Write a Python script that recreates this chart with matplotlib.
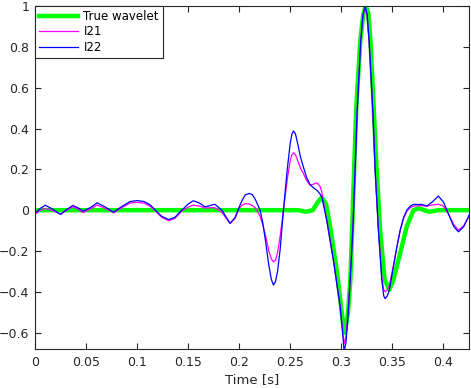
import matplotlib
matplotlib.use("Agg")
import matplotlib.pyplot as plt

t_est = [0, 0.005, 0.01, 0.017, 0.025, 0.031, 0.037, 0.042, 0.047, 0.054,
         0.061, 0.069, 0.077, 0.085, 0.093, 0.1, 0.107, 0.113, 0.118, 0.124,
         0.131, 0.137, 0.1437, 0.15, 0.155, 0.161, 0.1665, 0.171, 0.176, 0.183,
         0.191, 0.196, 0.2, 0.203, 0.206, 0.21, 0.213, 0.216, 0.2204, 0.223,
         0.226, 0.229, 0.2315, 0.2335, 0.2355, 0.2375, 0.24, 0.2433, 0.247, 0.25,
         0.2515, 0.253, 0.255, 0.2575, 0.26, 0.2628, 0.266, 0.2694, 0.273, 0.276,
         0.279, 0.2808, 0.2857, 0.2922, 0.2988, 0.3005, 0.3027, 0.3045, 0.3065, 0.3086,
         0.3112, 0.3135, 0.3155, 0.319, 0.3212, 0.3233, 0.3252, 0.3272, 0.3308, 0.3331,
         0.3363, 0.3396, 0.3415, 0.3429, 0.345, 0.347, 0.351, 0.354, 0.3576, 0.361,
         0.3641, 0.3675, 0.3706, 0.3787, 0.3837, 0.389, 0.395, 0.4, 0.405, 0.41,
         0.4147, 0.42, 0.425]

l22 = [-0.015, 0.008, 0.024, 0.006, -0.021, 0.003, 0.023, 0.012, -0.005, 0.012,
       0.036, 0.015, -0.01, 0.018, 0.042, 0.047, 0.042, 0.025, 0.0, -0.03,
       -0.046, -0.035, 0.0, 0.03, 0.046, 0.035, 0.016, 0.022, 0.029, 0.0,
       -0.065, -0.035, 0.016, 0.05, 0.075, 0.082, 0.075, 0.05, 0.0, -0.06,
       -0.16, -0.27, -0.34, -0.367, -0.35, -0.3, -0.196, 0.0, 0.2, 0.33,
       0.37, 0.388, 0.375, 0.32, 0.26, 0.212, 0.16, 0.125, 0.108, 0.098,
       0.08, 0.065, -0.05, -0.245, -0.47, -0.56, -0.69, -0.65, -0.52, -0.343,
       -0.1, 0.2, 0.49, 0.83, 0.96, 1.0, 0.96, 0.83, 0.49, 0.196,
       -0.1, -0.343, -0.42, -0.433, -0.42, -0.39, -0.277, -0.19, -0.098, -0.035,
       0.0, 0.02, 0.028, 0.028, 0.02, 0.04, 0.069, 0.04, -0.02, -0.08,
       -0.106, -0.08, -0.025]

l21 = [-0.02, -0.002, 0.008, -0.002, -0.02, 0.0, 0.016, 0.006, -0.012, 0.005,
       0.025, 0.008, -0.013, 0.012, 0.035, 0.038, 0.034, 0.018, -0.005, -0.035,
       -0.052, -0.04, -0.005, 0.015, 0.025, 0.02, 0.01, 0.012, 0.012, -0.01,
       -0.065, -0.04, 0.01, 0.025, 0.032, 0.03, 0.022, 0.01, -0.03, -0.07,
       -0.13, -0.2, -0.24, -0.253, -0.245, -0.21, -0.13, 0.0, 0.15, 0.245,
       0.27, 0.281, 0.272, 0.24, 0.205, 0.18, 0.145, 0.122, 0.128, 0.134,
       0.118, 0.09, -0.05, -0.245, -0.47, -0.55, -0.655, -0.62, -0.5, -0.343,
       -0.1, 0.2, 0.49, 0.83, 0.95, 0.99, 0.95, 0.83, 0.49, 0.196,
       -0.1, -0.33, -0.39, -0.4, -0.39, -0.37, -0.27, -0.19, -0.1, -0.04,
       -0.005, 0.012, 0.02, 0.022, 0.02, 0.025, 0.029, 0.02, -0.02, -0.07,
       -0.098, -0.075, -0.03]

t_true = [0, 0.258, 0.265, 0.272, 0.277, 0.2808, 0.285, 0.289, 0.2955, 0.302,
          0.3035, 0.3065, 0.3088, 0.3105, 0.3125, 0.3145, 0.3185, 0.3215, 0.324, 0.3265,
          0.3285, 0.3318, 0.3345, 0.338, 0.3425, 0.347, 0.351, 0.3576, 0.364, 0.3706,
          0.376, 0.381, 0.386, 0.395, 0.425]
true_wavelet = [0, 0, -0.008, 0.0, 0.04, 0.062, 0.03, -0.08, -0.294, -0.57,
                -0.6, -0.5, -0.343, -0.1, 0.2, 0.49, 0.83, 0.96, 1.0, 0.96,
                0.83, 0.49, 0.2, -0.1, -0.343, -0.39, -0.34, -0.21, -0.08, 0.0,
                0.01, 0.0, -0.008, 0.0, 0.0]

xticks = [0, 0.05, 0.1, 0.15, 0.2, 0.25, 0.3, 0.35, 0.4]
xticklabels = ["0", "0.05", "0.1", "0.15", "0.2", "0.25", "0.3", "0.35", "0.4"]
yticks = [-0.6, -0.4, -0.2, 0, 0.2, 0.4, 0.6, 0.8, 1]
yticklabels = ["\u22120.6", "\u22120.4", "\u22120.2", "0", "0.2", "0.4", "0.6", "0.8", "1"]

plt.rcParams['font.family'] = ['DejaVu Sans']
fig = plt.figure(figsize=(4.71, 3.88), dpi=100)
ax = fig.add_axes([35/471, 1 - 349/388, 434/471, 343/388])

ax.plot(t_true, true_wavelet, color=(0, 1, 0), lw=3.2, label="True wavelet")
ax.plot(t_est, l21, color=(1, 0, 1), lw=0.9, label="I21")
ax.plot(t_est, l22, color=(0, 0, 1), lw=0.9, label="I22")

ax.set_xlim(0, 0.425)
ax.set_ylim(-0.68, 1)
ax.set_xticks(xticks)
ax.set_xticklabels(xticklabels)
ax.set_yticks(yticks)
ax.set_yticklabels(yticklabels)
ax.tick_params(direction='in', top=True, right=True, length=4, width=0.8,
               labelsize=9, colors='#262626', pad=5)
ax.tick_params(axis='y', pad=4)
for s in ax.spines.values():
    s.set_color('#262626')
    s.set_linewidth(0.8)
ax.set_xlabel("Time [s]", fontsize=9.5, color='#262626', labelpad=3)

leg = ax.legend(loc='upper left', bbox_to_anchor=(0, 1), fancybox=False, framealpha=1,
                edgecolor='#262626', fontsize=8.5, borderaxespad=0, handlelength=3.3,
                handletextpad=0.45, labelspacing=0.2, borderpad=0.35)
leg.get_frame().set_linewidth(0.8)

fig.savefig("out.png", dpi=100)
